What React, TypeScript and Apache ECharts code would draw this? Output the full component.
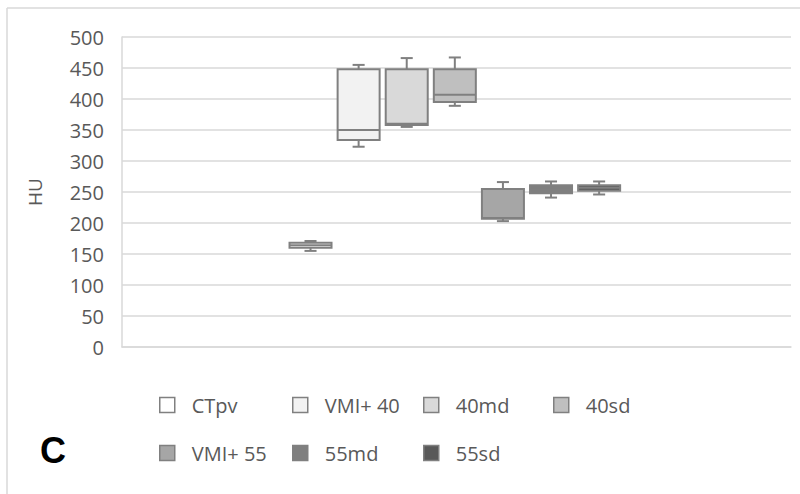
import React, { useEffect, useRef } from "react";
import * as echarts from "echarts";

const seriesNames = ["CTpv", "VMI+ 40", "40md", "40sd", "VMI+ 55", "55md", "55sd"];
const fills = ["#ffffff", "#f2f2f2", "#d9d9d9", "#bfbfbf", "#a6a6a6", "#7f7f7f", "#595959"];
const mins = [155, 323, 355, 389, 203, 241, 246];
const q1s = [160, 334, 358, 395, 207, 248, 252];
const medians = [164, 350, 360, 407, 208, 254, 257];
const q3s = [168, 448, 448, 448, 255, 261, 261];
const maxs = [171, 455, 466, 467, 266, 267, 267];
const categories = [""];
const legendLeft = [159, 292, 423, 553, 159, 292, 423];
const legendTop = [395, 395, 395, 395, 443, 443, 443];

const SPACING = 0.0719;
const BOXW = 0.0628;
const CAPW = 0.018;
const SHIFT = -0.0025;
const FONT = "'Open Sans', sans-serif";
const STROKE = "#808080";

export default function App() {
  const ref = useRef<HTMLDivElement>(null);
  useEffect(() => {
    const chart = echarts.init(ref.current!, undefined, { renderer: "svg" });
    const series = seriesNames.map((name, i) => ({
      name,
      type: "custom",
      itemStyle: { color: fills[i], borderColor: STROKE },
      encode: { x: 0, y: [1, 2, 3, 4, 5] },
      data: [[0, mins[i], q1s[i], medians[i], q3s[i], maxs[i]]],
      renderItem: (params: any, api: any) => {
        const xv = api.value(0);
        const base = api.coord([xv, 0]);
        const band = api.size([1, 0])[0];
        const cx = base[0] + (i - 3) * band * SPACING + band * SHIFT;
        const half = (band * BOXW) / 2;
        const cap = (band * CAPW) / 2;
        const y = (k: number) => api.coord([xv, api.value(k)])[1];
        const yMin = y(1), yQ1 = y(2), yMed = y(3), yQ3 = y(4), yMax = y(5);
        const ls = { stroke: STROKE, lineWidth: 2 };
        return {
          type: "group",
          children: [
            { type: "line", shape: { x1: cx, y1: yMax, x2: cx, y2: yQ3 }, style: ls },
            { type: "line", shape: { x1: cx - cap, y1: yMax, x2: cx + cap, y2: yMax }, style: ls },
            { type: "line", shape: { x1: cx, y1: yQ1, x2: cx, y2: yMin }, style: ls },
            { type: "line", shape: { x1: cx - cap, y1: yMin, x2: cx + cap, y2: yMin }, style: ls },
            {
              type: "rect",
              shape: { x: cx - half, y: yQ3, width: 2 * half, height: yQ1 - yQ3 },
              style: { fill: fills[i], stroke: STROKE, lineWidth: 2 },
            },
            { type: "line", shape: { x1: cx - half, y1: yMed, x2: cx + half, y2: yMed }, style: ls },
          ],
        };
      },
    }));
    const legends = seriesNames.map((name, i) => ({
      data: [{ name, itemStyle: { color: fills[i], borderColor: STROKE, borderWidth: 1.5 } }],
      left: legendLeft[i],
      top: legendTop[i],
      padding: 0,
      icon: "rect",
      itemWidth: 15,
      itemHeight: 15,
      selectedMode: false,
      textStyle: { fontFamily: FONT, fontSize: 20, color: "#595959", padding: [0, 0, 0, 12] },
    }));
    chart.setOption({
      animation: false,
      backgroundColor: "#ffffff",
      grid: { left: 122, right: 9, top: 37, bottom: 147 },
      xAxis: {
        type: "category",
        data: categories,
        axisLabel: { show: false },
        axisTick: { show: false },
        axisLine: { lineStyle: { color: "#d9d9d9", width: 1.5 } },
      },
      yAxis: {
        type: "value",
        min: 0,
        max: 500,
        interval: 50,
        name: "HU",
        nameLocation: "middle",
        nameGap: 78,
        nameTextStyle: { fontFamily: FONT, fontSize: 19, color: "#595959" },
        axisLine: { show: true, lineStyle: { color: "#d9d9d9", width: 1.5 } },
        axisTick: { show: false },
        axisLabel: { fontFamily: FONT, fontSize: 20, color: "#595959", margin: 18 },
        splitLine: { lineStyle: { color: "#d9d9d9", width: 1.5 } },
      },
      legend: legends,
      graphic: [
        { type: "line", shape: { x1: 7, y1: 8, x2: 800, y2: 8 }, style: { stroke: "#d9d9d9", lineWidth: 1.5 } },
        { type: "line", shape: { x1: 7, y1: 8, x2: 7, y2: 494 }, style: { stroke: "#d9d9d9", lineWidth: 1.5 } },
        {
          type: "text",
          left: 40,
          top: 432,
          style: { text: "C", fontFamily: "'Liberation Sans', Arial, sans-serif", fontWeight: "bold", fontSize: 36, fill: "#000000" },
        },
      ],
      series,
    });
    return () => chart.dispose();
  }, []);
  return <div ref={ref} style={{ position: "fixed", left: 0, top: 0, width: 800, height: 494 }} />;
}
